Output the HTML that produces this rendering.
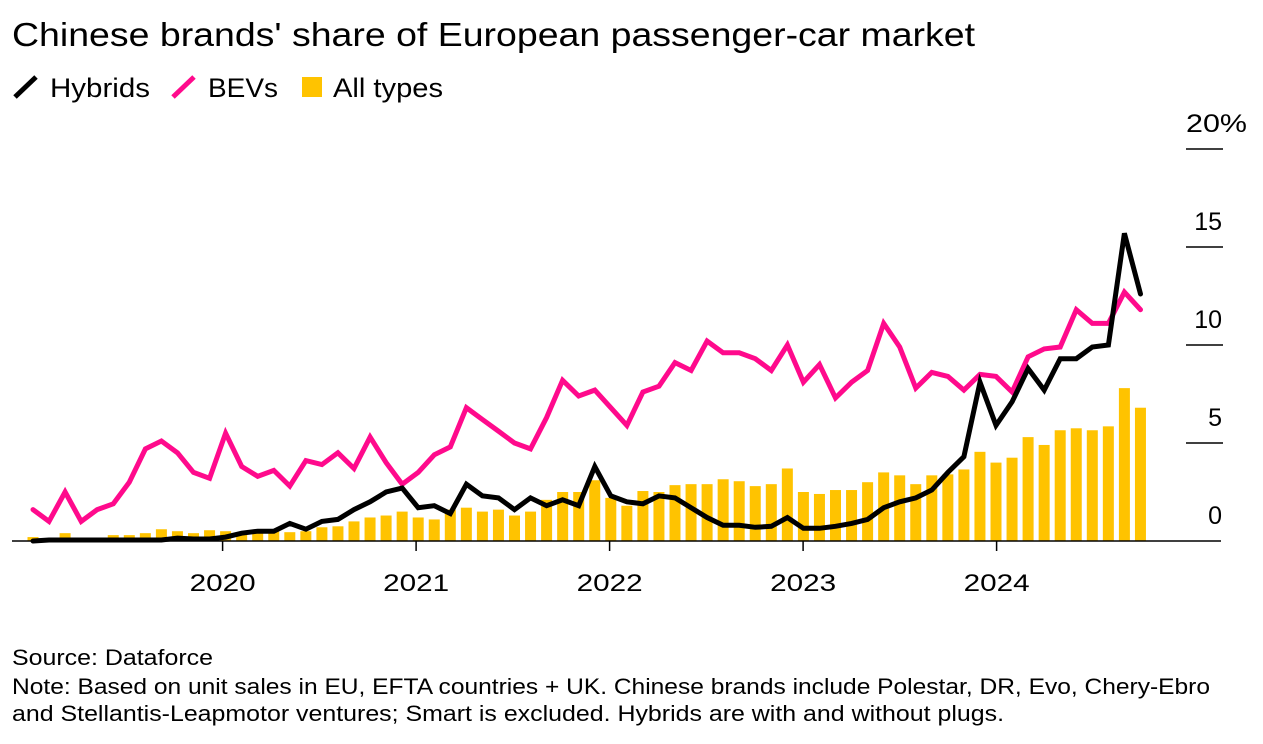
<!DOCTYPE html>
<html><head><meta charset="utf-8"><style>
body{margin:0;background:#fff;font-family:"Liberation Sans",Arial,sans-serif;}
svg{display:block}
</style></head><body>
<svg id="chart" width="1263" height="744" xmlns="http://www.w3.org/2000/svg" font-family="Liberation Sans, Arial, sans-serif">
<text x="12" y="46" font-size="33" textLength="963" lengthAdjust="spacingAndGlyphs" fill="#000">Chinese brands' share of European passenger-car market</text>
<g>
<g><line x1="15" y1="97" x2="36" y2="77" stroke="#000" stroke-width="5"/><text x="50" y="97" font-size="27" textLength="100" lengthAdjust="spacingAndGlyphs">Hybrids</text></g>
<g><line x1="173" y1="97" x2="194" y2="77" stroke="#ff0a8c" stroke-width="5"/><text x="208" y="97" font-size="27" textLength="70" lengthAdjust="spacingAndGlyphs">BEVs</text></g>
<g><rect x="302" y="77" width="20" height="20" fill="#ffc300"/><text x="333" y="97" font-size="27" textLength="110" lengthAdjust="spacingAndGlyphs">All types</text></g>
</g>
<g id="plot"></g>
<text x="12" y="665" font-size="22" textLength="201" lengthAdjust="spacingAndGlyphs">Source: Dataforce</text>
<text x="12" y="694" font-size="22" textLength="1198" lengthAdjust="spacingAndGlyphs">Note: Based on unit sales in EU, EFTA countries + UK. Chinese brands include Polestar, DR, Evo, Chery-Ebro</text>
<text x="12" y="721" font-size="22" textLength="992" lengthAdjust="spacingAndGlyphs">and Stellantis-Leapmotor ventures; Smart is excluded. Hybrids are with and without plugs.</text>
</svg>
<script>
const yTicks=[0,5,10,15,20];
const yTickLabels=["0","5","10","15","20%"];
const xTickYears=["2020","2021","2022","2023","2024"];
const bevs=[1.6,1.0,2.5,1.0,1.6,1.9,3.0,4.7,5.1,4.5,3.5,3.2,5.5,3.8,3.3,3.6,2.8,4.1,3.9,4.5,3.7,5.3,4.0,2.9,3.5,4.4,4.8,6.8,6.2,5.6,5.0,4.7,6.3,8.2,7.4,7.7,6.8,5.9,7.6,7.9,9.1,8.7,10.2,9.6,9.6,9.3,8.7,10.0,8.1,9.0,7.3,8.1,8.7,11.1,9.9,7.8,8.6,8.4,7.7,8.5,8.4,7.6,9.4,9.8,9.9,11.8,11.1,11.1,12.7,11.8];
const hybrids=[0.0,0.05,0.05,0.05,0.05,0.05,0.05,0.05,0.05,0.15,0.1,0.1,0.2,0.4,0.5,0.5,0.9,0.6,1.0,1.1,1.6,2.0,2.5,2.7,1.7,1.8,1.4,2.9,2.3,2.2,1.6,2.2,1.8,2.1,1.8,3.8,2.3,2.0,1.9,2.3,2.2,1.7,1.2,0.8,0.8,0.7,0.75,1.2,0.65,0.65,0.75,0.9,1.1,1.7,2.0,2.2,2.6,3.5,4.3,8.1,5.9,7.1,8.8,7.7,9.3,9.3,9.9,10.0,15.7,12.6];
const allTypes=[0.2,0.05,0.4,0.1,0.1,0.3,0.3,0.4,0.6,0.5,0.4,0.55,0.5,0.4,0.5,0.5,0.45,0.5,0.7,0.75,1.0,1.2,1.3,1.5,1.2,1.1,1.6,1.7,1.5,1.6,1.3,1.5,2.1,2.5,2.5,3.1,2.2,1.8,2.55,2.5,2.85,2.9,2.9,3.15,3.05,2.8,2.9,3.7,2.5,2.4,2.6,2.6,3.0,3.5,3.35,2.9,3.35,3.4,3.65,4.55,4.0,4.25,5.3,4.9,5.65,5.75,5.65,5.85,7.8,6.8];
const NS="http://www.w3.org/2000/svg";
const plot=document.getElementById('plot');
const x=i=>33+i*16.05;
const y=v=>541-v*19.6;
function mk(tag,attrs){const e=document.createElementNS(NS,tag);for(const k in attrs)e.setAttribute(k,attrs[k]);plot.appendChild(e);return e;}
allTypes.forEach((v,i)=>{
 const r=mk('rect',{x:x(i)-5.5,y:y(v),width:11,height:541-y(v),fill:'#ffc300'});
 
 
});
yTicks.forEach((t,k)=>{
 if(t>0){const l=mk('line',{x1:1186,x2:1223,y1:y(t),y2:y(t),stroke:'#000','stroke-width':1.5});
 
 }
 const isTop=(k===yTicks.length-1);
 const attrs={x:isTop?1186:1222,y:y(t)-17,'text-anchor':isTop?'start':'end','font-size':25};
 if(isTop){attrs.textLength=61;attrs.lengthAdjust='spacingAndGlyphs';}
 const tx=mk('text',attrs);
 tx.textContent=yTickLabels[k];
 
 
});
const base=mk('line',{x1:12,x2:1221,y1:541,y2:541,stroke:'#000','stroke-width':1.5});


xTickYears.forEach((lab,k)=>{
 const tx0=x(12*(k+1))-3+k*0.9;
 const l=mk('line',{x1:tx0,x2:tx0,y1:541,y2:551,stroke:'#000','stroke-width':1.5});
 
 
 const t=mk('text',{x:tx0,y:591,'text-anchor':'middle','font-size':24,textLength:66,lengthAdjust:'spacingAndGlyphs'});
 t.textContent=lab;
 
 
});
function line(data,color,name){
 const d=data.map((v,i)=>(i?'L':'M')+x(i).toFixed(1)+','+y(v).toFixed(1)).join('');
 const p=mk('path',{d:d,fill:'none',stroke:color,'stroke-width':5,'stroke-linejoin':'miter','stroke-linecap':'round'});
 
 
}
line(bevs,'#ff0a8c','bevs-line');
line(hybrids,'#000','hybrids-line');
</script>
</body></html>
